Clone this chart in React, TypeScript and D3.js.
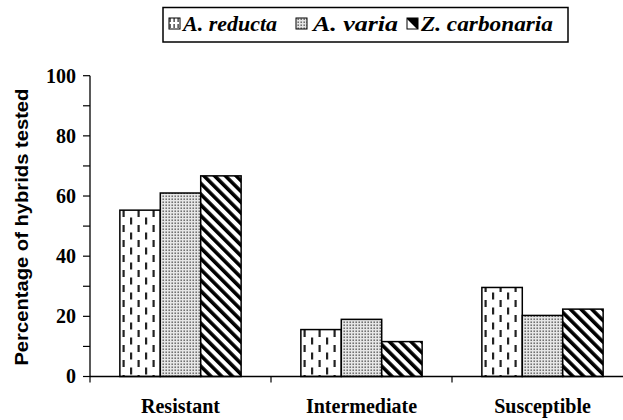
import React from "react";
import * as d3 from "d3";

const categories = ["Resistant", "Intermediate", "Susceptible"];
const seriesNames = ["A. reducta", "A. varia", "Z. carbonaria"];
const reducta = [55.3, 15.6, 29.6];
const varia = [61, 19, 20.3];
const carbonaria = [66.7, 11.6, 22.4];
const yTickLabels = [0, 20, 40, 60, 80, 100];
const yMinorTicks = [0, 10, 20, 30, 40, 50, 60, 70, 80, 90, 100];

const W = 623;
const H = 420;
const serif = '"Liberation Serif", "Times New Roman", Times, "DejaVu Serif", serif';
const sans = '"Liberation Sans", Arial, Helvetica, sans-serif';

export default function App() {
  const values = [reducta, varia, carbonaria];
  const y = d3.scaleLinear().domain([0, 100]).range([376.5, 75.7]);
  const x0 = d3.scaleBand<string>().domain(categories).range([90, 633]).paddingInner(0).paddingOuter(0);
  const bw = x0.bandwidth();
  const x1 = d3.scaleBand<string>().domain(seriesNames).range([bw * 0.165, bw * 0.835]).padding(0);
  const fills = ["url(#pDash)", "url(#pDots)", "url(#pStripe)"];
  const swatchFills = ["url(#pDashS)", "url(#pDots)", "url(#pStripeS)"];
  const legendItems = [
    { sx: 169, tx: 183, tl: 94 },
    { sx: 296, tx: 313, tl: 85 },
    { sx: 407, tx: 421, tl: 132 },
  ];
  const serifStyle = { fontFamily: serif, fontWeight: 700 } as React.CSSProperties;

  return (
    <svg width={W} height={H} style={{ position: "absolute", left: 0, top: 0, background: "#fff" }}>
      <defs>
        <pattern id="pDash" patternUnits="userSpaceOnUse" width={15} height={15}>
          <rect width={15} height={15} fill="#fff" />
          <rect x={2.5} y={0} width={2.2} height={7} fill="#222" />
          <rect x={10} y={7.5} width={2.2} height={7} fill="#222" />
        </pattern>
        <pattern id="pDashS" patternUnits="userSpaceOnUse" width={4} height={6}>
          <rect width={4} height={6} fill="#fff" />
          <rect x={1.5} y={0} width={1.2} height={4} fill="#222" />
        </pattern>
        <pattern id="pDots" patternUnits="userSpaceOnUse" width={3} height={3}>
          <rect width={3} height={3} fill="#e6e6e6" />
          <rect x={0.5} y={0.5} width={1.4} height={1.4} fill="#555" />
        </pattern>
        <pattern id="pStripe" patternUnits="userSpaceOnUse" width={7.6} height={10} patternTransform="rotate(-45)">
          <rect width={7.6} height={10} fill="#fff" />
          <rect x={0} y={0} width={3.6} height={10} fill="#000" />
        </pattern>
        <pattern id="pStripeS" patternUnits="userSpaceOnUse" width={16} height={16} patternTransform="translate(412,24) rotate(-45)">
          <rect width={16} height={16} fill="#fff" />
          <rect x={0} y={0} width={8} height={16} fill="#000" />
        </pattern>
      </defs>

      {/* legend */}
      <rect x={163} y={7.5} width={405} height={34.5} fill="#fff" stroke="#000" strokeWidth={1.5} />
      {seriesNames.map((s, i) => (
        <g key={s}>
          <rect x={legendItems[i].sx} y={18} width={11} height={11} fill={swatchFills[i]} stroke="#000" strokeWidth={1} />
          <text
            x={legendItems[i].tx}
            y={31}
            style={{ ...serifStyle, fontStyle: "italic", fontSize: "22px" }}
            textLength={legendItems[i].tl}
            lengthAdjust="spacingAndGlyphs"
          >
            {s}
          </text>
        </g>
      ))}

      {/* bars */}
      {categories.map((c, ci) => (
        <g key={c} transform={`translate(${x0(c)},0)`}>
          {seriesNames.map((s, si) => (
            <rect
              key={s}
              x={x1(s)}
              y={y(values[si][ci])}
              width={x1.bandwidth()}
              height={y(0) - y(values[si][ci])}
              fill={fills[si]}
              stroke="#000"
              strokeWidth={1.5}
            />
          ))}
        </g>
      ))}

      {/* y axis */}
      <line x1={90} x2={90} y1={y(100)} y2={y(0)} stroke="#000" strokeWidth={1.3} />
      {yMinorTicks.map((t) => (
        <line key={t} x1={83} x2={90} y1={y(t)} y2={y(t)} stroke="#000" strokeWidth={1.2} />
      ))}
      {yTickLabels.map((t) => (
        <text key={t} x={76} y={y(t)} dy="0.34em" textAnchor="end" style={{ ...serifStyle, fontSize: "20px" }}>
          {t}
        </text>
      ))}
      <text
        transform={`translate(28,${(y(0) + y(100)) / 2 + 1}) rotate(-90)`}
        textAnchor="middle"
        style={{ fontFamily: sans, fontWeight: 700, fontSize: "19px" }}
        textLength={277}
        lengthAdjust="spacingAndGlyphs"
      >
        Percentage of hybrids tested
      </text>

      {/* x axis */}
      <line x1={90} x2={633} y1={y(0)} y2={y(0)} stroke="#000" strokeWidth={1.3} />
      {categories.map((c) => (
        <line key={c} x1={x0(c)!} x2={x0(c)!} y1={y(0)} y2={y(0) + 6} stroke="#000" strokeWidth={1.2} />
      ))}
      {categories.map((c) => (
        <text key={c} x={x0(c)! + bw / 2} y={413} textAnchor="middle" style={{ ...serifStyle, fontSize: "20px" }}>
          {c}
        </text>
      ))}
    </svg>
  );
}
